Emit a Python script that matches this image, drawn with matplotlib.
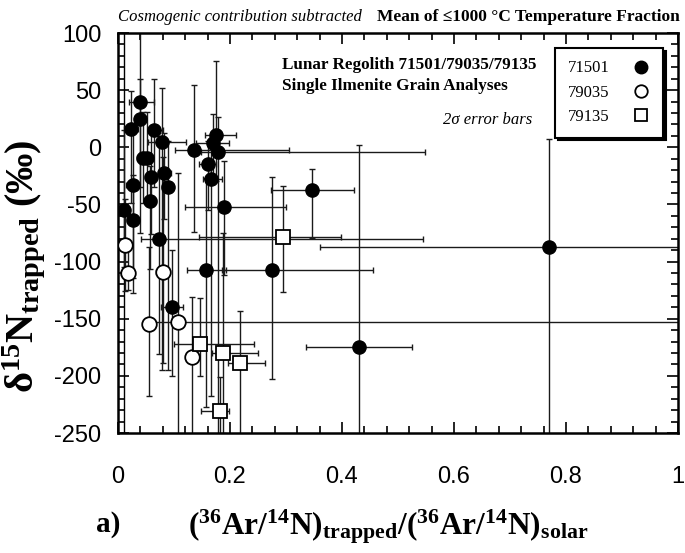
import matplotlib
matplotlib.use("Agg")
import matplotlib.pyplot as plt
from matplotlib.lines import Line2D
from matplotlib.ticker import FixedLocator, MultipleLocator

plt.rcParams['mathtext.fontset'] = 'custom'
plt.rcParams['mathtext.rm'] = 'Liberation Serif:bold'
plt.rcParams['mathtext.bf'] = 'Liberation Serif:bold'
plt.rcParams['mathtext.it'] = 'Liberation Serif:bold:italic'

# ---------------- data ----------------
# 71501 (filled circles)
x_71501 = [0.039, 0.040, 0.023, 0.065, 0.078, 0.136, 0.175, 0.169, 0.178, 0.044,
           0.051, 0.160, 0.026, 0.059, 0.082, 0.089, 0.166, 0.057, 0.190, 0.010,
           0.026, 0.347, 0.074, 0.157, 0.275, 0.096, 0.770, 0.430]
y_71501 = [40, 25, 16, 15, 5, -2.4, 10.8, 3.8, -3.8, -9,
           -9, -14.6, -32.7, -25.7, -22.6, -34.5, -27.9, -46.7, -52, -54.9,
           -64, -37.4, -80.5, -107, -107, -140, -87, -175]
xlo_71501 = [0.020, 0.010, 0.012, 0.012, 0.025, 0.034, 0.020, 0.030, 0.030, 0.010,
             0.010, 0.015, 0.012, 0.010, 0.010, 0.010, 0.015, 0.010, 0.070, 0.008,
             0.010, 0.074, 0.033, 0.033, 0.090, 0.020, 0.410, 0.095]
xhi_71501 = [0.026, 0.010, 0.012, 0.015, 0.043, 0.170, 0.035, 0.030, 0.370, 0.010,
             0.010, 0.015, 0.012, 0.010, 0.012, 0.010, 0.020, 0.010, 0.110, 0.010,
             0.010, 0.074, 0.470, 0.036, 0.180, 0.020, 0.300, 0.095]
ylo_71501 = [115, 60, 65, 50, 200, 72, 40, 30, 250, 40,
             40, 40, 95, 50, 40, 160, 190, 60, 60, 50,
             50, 42, 100, 120, 96, 60, 200, 100]
yhi_71501 = [70, 35, 33, 45, 47, 57, 65, 25, 30, 40,
             40, 20, 45, 40, 35, 40, 30, 30, 40, 70,
             40, 18, 90, 80, 81, 50, 94, 177]

# 79035 (open circles)
x_79035 = [0.0125, 0.017, 0.080, 0.055, 0.108, 0.132]
y_79035 = [-85.5, -109.7, -108.8, -154.6, -152.6, -183.7]
xlo_79035 = [0.010, 0.012, 0.012, 0.010, 0.050, 0.010]
xhi_79035 = [0.010, 0.012, 0.010, 0.010, 0.950, 0.010]
ylo_79035 = [40, 15, 80, 63, 100, 70]
yhi_79035 = [40, 25, 100, 67, 130, 53]

# 79135 (open squares)
x_79135 = [0.294, 0.147, 0.187, 0.217, 0.183]
y_79135 = [-78.8, -172, -180, -188.5, -231]
xlo_79135 = [0.150, 0.047, 0.020, 0.020, 0.035]
xhi_79135 = [0.104, 0.095, 0.063, 0.045, 0.015]
ylo_79135 = [48, 28, 70, 65, 20]
yhi_79135 = [45, 40, 105, 45, 30]

series_labels = ['71501', '79035', '79135']
xtick_vals = [0, 0.2, 0.4, 0.6, 0.8, 1.0]
xtick_labels = ['0', '0.2', '0.4', '0.6', '0.8', '1']
ytick_vals = [100, 50, 0, -50, -100, -150, -200, -250]
ytick_labels = ['100', '50', '0', '-50', '-100', '-150', '-200', '-250']

# ---------------- figure ----------------
fig = plt.figure(figsize=(6.85, 5.53), dpi=100)
ax = fig.add_axes([118/685, 1-433/553, 560/685, 400/553])

ebkw = dict(fmt='none', ecolor='#1a1a1a', elinewidth=1.0, capsize=2.5, capthick=1.0, zorder=2)
ax.errorbar(x_71501, y_71501, xerr=[xlo_71501, xhi_71501], yerr=[ylo_71501, yhi_71501], **ebkw)
ax.errorbar(x_79035, y_79035, xerr=[xlo_79035, xhi_79035], yerr=[ylo_79035, yhi_79035], **ebkw)
ax.errorbar(x_79135, y_79135, xerr=[xlo_79135, xhi_79135], yerr=[ylo_79135, yhi_79135], **ebkw)

ax.plot(x_71501, y_71501, 'o', ms=9.5, mfc='black', mec='black', ls='none', zorder=4)
ax.plot(x_79035, y_79035, 'o', ms=10.5, mfc='white', mec='black', mew=1.3, ls='none', zorder=4)
ax.plot(x_79135, y_79135, 's', ms=10.5, mfc='white', mec='black', mew=1.3, ls='none', zorder=4)

ax.set_xlim(0, 1)
ax.set_ylim(-250, 100)
ax.xaxis.set_major_locator(FixedLocator(xtick_vals))
ax.set_xticklabels(xtick_labels)
ax.xaxis.set_minor_locator(MultipleLocator(0.04))
ax.yaxis.set_major_locator(FixedLocator(ytick_vals))
ax.set_yticklabels(ytick_labels)
ax.yaxis.set_minor_locator(MultipleLocator(10))

ax.tick_params(which='both', direction='in', top=True, right=True, width=1.2, color='black')
ax.tick_params(which='major', length=8)
ax.tick_params(which='minor', length=5)
ax.tick_params(axis='x', which='major', pad=24, labelsize=17)
ax.tick_params(axis='y', which='major', pad=12, labelsize=17)
for lab in ax.get_xticklabels() + ax.get_yticklabels():
    lab.set_fontfamily('Liberation Sans')
for s in ax.spines.values():
    s.set_linewidth(1.8)
# inner ruler line along the left edge
ax.plot([0.011, 0.011], [0, 1], transform=ax.transAxes, color='black', lw=1.0, zorder=1)

# legend
handles = [
    Line2D([], [], marker='o', ls='none', ms=9, mfc='black', mec='black'),
    Line2D([], [], marker='o', ls='none', ms=9, mfc='white', mec='black', mew=1.3),
    Line2D([], [], marker='s', ls='none', ms=9, mfc='white', mec='black', mew=1.3),
]
leg = ax.legend(handles, series_labels, loc='upper right', bbox_to_anchor=(0.974, 0.9625),
                borderaxespad=0, markerfirst=False, fancybox=False, frameon=True,
                prop={'family': 'Liberation Serif', 'size': 12},
                labelspacing=0.5, borderpad=0.75, handletextpad=1.3, handlelength=1.2,
                shadow={'color': 'black', 'alpha': 1})
leg.get_frame().set_edgecolor('black')
leg.get_frame().set_linewidth(1.5)
leg.set_zorder(10)

# texts
serif = ['Liberation Serif', 'DejaVu Serif']
fig.text(118/685, 1-17/553, 'Cosmogenic contribution subtracted', family=serif,
         style='italic', fontsize=12, ha='left', va='center')
fig.text(680/685, 1-17/553, 'Mean of \u22641000 \u00b0C Temperature Fraction', family=serif,
         weight='bold', fontsize=12.5, ha='right', va='center')
fig.text(282/685, 1-65/553, 'Lunar Regolith 71501/79035/79135', family=serif,
         weight='bold', fontsize=12.3, ha='left', va='center')
fig.text(282/685, 1-86/553, 'Single Ilmenite Grain Analyses', family=serif,
         weight='bold', fontsize=12.3, ha='left', va='center')
fig.text(532/685, 1-120/553, '2\u03c3 error bars', family=serif,
         style='italic', fontsize=12, ha='right', va='center')

fig.text(24/685, 1-266/553, r'$\mathbf{\delta^{15}N_{trapped}}$ (‰)', family=serif,
         weight='bold', fontsize=29, rotation=90, ha='center', va='center')
fig.text(108/685, 1-525/553, 'a)', family=serif, weight='bold', fontsize=21,
         ha='center', va='center')
fig.text(188/685, 1-527/553,
         r'$\mathbf{(^{36}Ar/^{14}N)_{trapped}/(^{36}Ar/^{14}N)_{solar}}$',
         family=serif, fontsize=22.5, ha='left', va='center')

fig.savefig('out.png', dpi=100)
